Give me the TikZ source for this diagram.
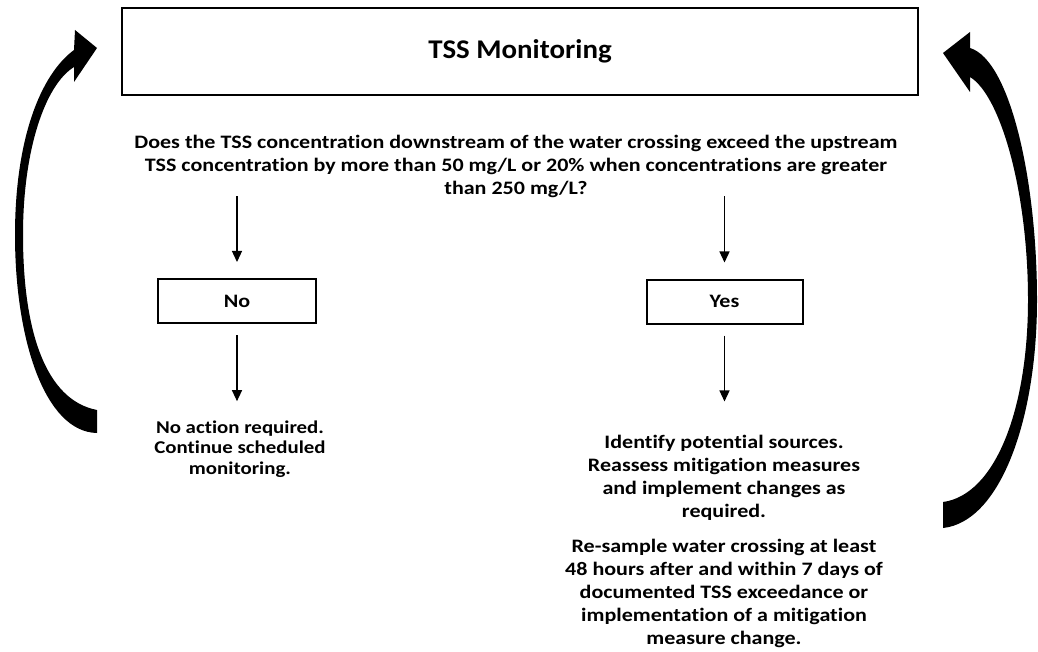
\documentclass[tikz,border=0pt]{standalone}
\usepackage{fontspec}
\setmainfont{Carlito}
\newfontfamily\bodyfont[FakeStretch=1.16,Ligatures=NoCommon]{Carlito}
\newfontfamily\headfont[FakeStretch=1.07,Ligatures=NoCommon]{Carlito}
\usetikzlibrary{arrows.meta}
\tikzset{
  flowbox/.style={draw=black, line width=2pt, inner sep=0pt},
  flowtext/.style={align=center, inner sep=0pt, font=\bodyfont\fontsize{19}{23}\selectfont\bfseries},
  arr/.style={line width=1.3pt, -{Triangle[width=10pt,length=11pt]}},
  bigarrow/.style={fill=black, draw=none}
}
\begin{document}
\begin{tikzpicture}[x=1pt,y=-1pt]
\useasboundingbox (0,0) rectangle (1038,652);
\fill[white] (0,0) rectangle (1038,652);

\node[flowbox, minimum width=796pt, minimum height=87pt, font=\headfont\fontsize{27}{30}\selectfont\bfseries] (title) at (520,51.5) {TSS Monitoring};

\node[flowtext, anchor=base] (q) at (516,195) {Does the TSS concentration downstream of the water crossing exceed the upstream\\TSS concentration by more than 50 mg/L or 20\% when concentrations are greater\\than 250 mg/L?};

\node[flowbox, minimum width=158pt, minimum height=44pt, font=\bodyfont\fontsize{19}{23}\selectfont\bfseries] (no) at (237,301) {No};
\node[flowbox, minimum width=156pt, minimum height=44pt, font=\bodyfont\fontsize{19}{23}\selectfont\bfseries] (yes) at (724.5,301.5) {Yes};

\node[flowtext, anchor=base, font=\bodyfont\fontsize{18}{20.5}\selectfont\bfseries] (noact) at (240,474) {No action required.\\Continue scheduled\\monitoring.};
\node[flowtext, anchor=base] (ident) at (724,517) {Identify potential sources.\\Reassess mitigation measures\\and implement changes as\\required.};
\node[flowtext, anchor=base] (resample) at (724,644) {Re-sample water crossing at least\\48 hours after and within 7 days of\\documented TSS exceedance or\\implementation of a mitigation\\measure change.};

\draw[arr, shorten <=-2pt, shorten >=16pt] (q.south -| no.north) -- (no.north);
\draw[arr, shorten <=-2pt, shorten >=16pt] (q.south -| yes.north) -- (yes.north);
\draw[arr, shorten <=11pt, shorten >=19pt] (no.south) -- (no.south |- noact.north);
\draw[arr, shorten <=11pt, shorten >=33pt] (yes.south) -- (yes.south |- ident.north);

% left return arrow
\fill[bigarrow] (97,433) .. controls (45,432) and (15,340) .. (15,235)
  .. controls (15,140) and (40,75) .. (74,50) -- (75,30) -- (97,48) -- (74,82) -- (74,67)
  .. controls (45,85) and (23,150) .. (23,235)
  .. controls (23,330) and (45,400) .. (97,410) -- cycle;

% right return arrow
\fill[bigarrow] (943,528) .. controls (1000,522) and (1037,420) .. (1037,300)
  .. controls (1037,180) and (1010,60) .. (970,48) -- (970,32) -- (943,53) -- (970,92) -- (970,77)
  .. controls (1000,95) and (1028,190) .. (1028,300)
  .. controls (1028,410) and (995,495) .. (943,502) -- cycle;
\end{tikzpicture}
\end{document}
